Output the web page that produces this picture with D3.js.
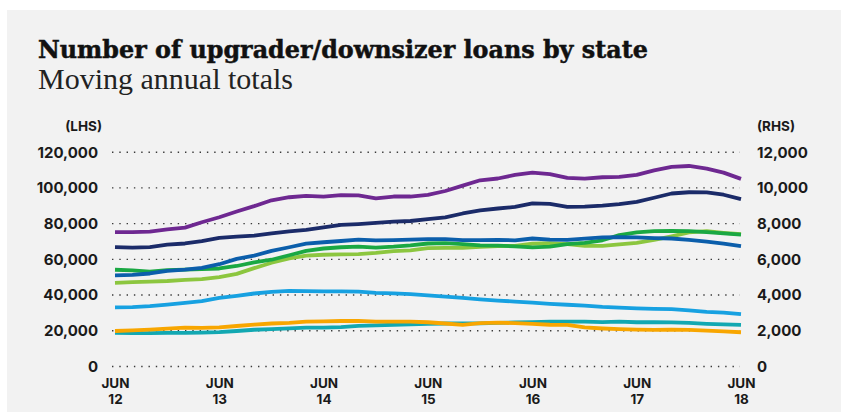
<!DOCTYPE html>
<html lang="en">
<head>
<meta charset="UTF-8">
<title>Number of upgrader/downsizer loans by state</title>
<script src="https://d3js.org/d3.v7.min.js"></script>
<style>
  body { margin: 0; background: #fff; }
  svg { display: block; }
  .tick-label { font-family: Inter, "Open Sans", sans-serif; font-weight: 700; fill: #1a1a1a; }
  .grid line { stroke: #3a3a3a; stroke-width: 1.4; stroke-dasharray: 1.4 5.9; }
  .grid .domain { display: none; }
</style>
</head>
<body>
<div id="chart"></div>
<script>
// bimonthly points, Jun 2012 -> Jun 2018
const months = ["2012-06","2012-08","2012-10","2012-12","2013-02","2013-04",
  "2013-06","2013-08","2013-10","2013-12","2014-02","2014-04",
  "2014-06","2014-08","2014-10","2014-12","2015-02","2015-04",
  "2015-06","2015-08","2015-10","2015-12","2016-02","2016-04",
  "2016-06","2016-08","2016-10","2016-12","2017-02","2017-04",
  "2017-06","2017-08","2017-10","2017-12","2018-02","2018-04","2018-06"];

// values in thousands of loans (LHS units)
const purple = [75,75,75.3,76.5,77.5,80.5,83.3,86.5,89.5,92.8,94.5,95.3,94.9,95.7,95.5,93.9,94.9,94.9,95.8,98,101,104,105,107,108.3,107.5,105.3,104.9,105.7,105.9,107,109.5,111.5,112,110.5,108.3,104.8];
const navy = [66.6,66.3,66.6,68,68.6,69.9,71.8,72.4,73,74.3,75.4,76.2,77.6,79,79.5,80.1,80.8,81.2,82.2,83.2,85.4,87.1,88.2,89.1,91.1,90.8,89.1,89.2,89.8,90.6,91.9,94.2,96.6,97.3,97.2,95.9,93.4];
const blue = [50.8,51,51.8,53.3,54,55,57,60,61.8,64.5,66.5,68.5,69.3,70,70.8,70.3,70.5,70.8,71,71,70.5,70.5,70.6,70.4,71.4,70.8,70.6,71.3,72,72.2,72,71.6,71.4,70.6,69.6,68.5,67.1];
const green = [53.9,53.6,52.8,53.7,54,54.2,54.6,56,58,59.5,62,64.5,65.8,66.5,66.8,66.3,66.8,67.5,68.6,68.8,68.3,67.6,67.4,67,66.4,66.8,68.3,69,70.4,73.3,74.8,75.5,75.7,75.5,75,74.3,73.6];
const lime = [46.6,47,47.3,47.6,48.2,48.6,49.8,51.6,54.8,57.8,60.3,61.8,62.3,62.5,62.7,63.3,64.3,64.8,66,66.1,66.1,66.7,67.2,67.3,68.5,68.8,68.2,67.3,67.3,68.1,69,70.6,72.6,74.8,75.5,74.6,73.8];
const sky = [32.8,33,33.5,34.4,35.3,36.3,38.2,39.3,40.6,41.5,42.1,41.9,41.8,41.8,41.6,40.9,40.7,40.3,39.5,38.8,38.1,37.3,36.6,36.1,35.5,34.8,34.3,33.8,33.1,32.7,32.3,32,31.8,31.2,30.3,29.9,29];
const orange = [19.6,20,20.4,20.9,21.5,21.3,21.6,22.4,23.2,23.8,24.2,24.8,25,25.2,25.3,24.8,24.9,24.8,24.5,23.8,23,24,24.3,24,23.6,23.1,23,21.6,21,20.6,20.4,20.2,20.3,20.2,19.8,19.4,18.9];
const teal = [18.6,18.4,18.4,18.6,18.6,18.7,19,19.6,20.3,20.6,21.1,21.5,21.5,21.8,22.5,22.8,23.1,23.3,23.6,23.8,23.9,23.9,24.1,24.4,24.6,24.8,24.8,24.8,24.6,24.9,24.5,24.5,24.4,24.1,23.6,23.3,23];

const leftTicks = [0, 20, 40, 60, 80, 100, 120];
const rightTicks = [0, 2000, 4000, 6000, 8000, 10000, 12000];
const yearTicks = ["2012-06","2013-06","2014-06","2015-06","2016-06","2017-06","2018-06"];

// drawing order: bottom first
const series = [
  { values: teal,   color: "#12a8b2" },
  { values: orange, color: "#f8a600" },
  { values: sky,    color: "#17a1e1" },
  { values: lime,   color: "#8cc63f" },
  { values: green,  color: "#1aa843" },
  { values: blue,   color: "#0b5eab" },
  { values: navy,   color: "#1b2b69" },
  { values: purple, color: "#6e2891" }
];

const width = 841, height = 412;
const parse = d3.timeParse("%Y-%m");

const svg = d3.select("#chart").append("svg")
  .attr("width", width).attr("height", height);

svg.append("rect")
  .attr("x", 7).attr("y", 10)
  .attr("width", width - 7).attr("height", height - 10)
  .attr("fill", "#f2f2f2");

// titles
const title = svg.append("text")
  .attr("x", 38).attr("y", 58)
  .attr("font-family", "'DejaVu Serif', serif")
  .attr("font-weight", 700)
  .attr("font-size", 21)
  .attr("fill", "#111")
  .attr("stroke", "#111")
  .attr("stroke-width", 0.5)
  .text("Number of upgrader/downsizer loans by state");
fitWidth(title, 610, 21);

const sub = svg.append("text")
  .attr("x", 38).attr("y", 89)
  .attr("font-family", "'Liberation Serif', serif")
  .attr("font-size", 24)
  .attr("fill", "#222")
  .text("Moving annual totals");
fitWidth(sub, 255, 24);

function fitWidth(sel, target, base) {
  const w = sel.node().getComputedTextLength();
  sel.attr("font-size", base * target / w);
}

const x = d3.scaleTime()
  .domain([parse("2012-06"), parse("2018-06")])
  .range([115, 741]);
const y = d3.scaleLinear().domain([0, 120]).range([366, 151.7]);
const yR = d3.scaleLinear().domain([0, 12000]).range([366, 151.7]);

const gridLeft = 112, gridRight = 740;

// left axis with dotted grid
const gl = svg.append("g")
  .attr("class", "grid")
  .attr("transform", `translate(${gridLeft},0)`)
  .call(d3.axisLeft(y).tickValues(leftTicks)
    .tickSize(-(gridRight - gridLeft)).tickPadding(14)
    .tickFormat(d => d3.format(",")(d * 1000)));
gl.selectAll("text").attr("class", "tick-label").attr("font-size", 15).attr("dy", "0.36em");

// right axis labels
const gr = svg.append("g")
  .attr("transform", `translate(${gridRight},0)`)
  .call(d3.axisRight(yR).tickValues(rightTicks).tickSize(0).tickPadding(17)
    .tickFormat(d3.format(",")));
gr.select(".domain").remove();
gr.selectAll("text").attr("class", "tick-label").attr("font-size", 15).attr("dy", "0.36em");

svg.append("text").attr("class", "tick-label")
  .attr("x", 102).attr("y", 130.5).attr("text-anchor", "end")
  .attr("font-size", 13.5).text("(LHS)");
svg.append("text").attr("class", "tick-label")
  .attr("x", 757).attr("y", 130.5)
  .attr("font-size", 13.5).text("(RHS)");

// x axis: two-line labels
const gx = svg.append("g")
  .attr("transform", "translate(0,366)")
  .call(d3.axisBottom(x).tickValues(yearTicks.map(parse)).tickSize(0).tickFormat(""));
gx.select(".domain").remove();
gx.selectAll(".tick text")
  .attr("class", "tick-label")
  .attr("font-size", 13.5)
  .attr("text-anchor", "middle")
  .attr("y", 0).attr("dy", null)
  .each(function(d) {
    const t = d3.select(this);
    t.append("tspan").attr("x", 0).attr("y", 22).text("JUN");
    t.append("tspan").attr("x", 0).attr("y", 37.5).text(d3.timeFormat("%y")(d));
  });

// lines
const line = d3.line()
  .x((d, i) => x(parse(months[i])))
  .y(d => y(d));

svg.append("g").selectAll("path")
  .data(series)
  .join("path")
  .attr("d", d => line(d.values))
  .attr("fill", "none")
  .attr("stroke", d => d.color)
  .attr("stroke-width", 3.8)
  .attr("stroke-linejoin", "round");
</script>
</body>
</html>
